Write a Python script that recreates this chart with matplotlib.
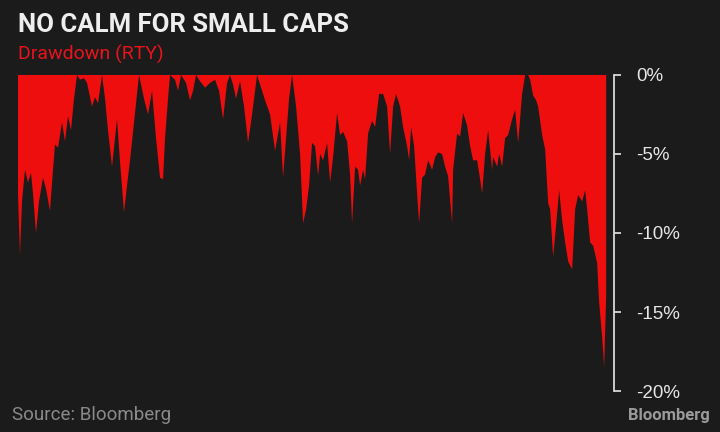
import matplotlib
matplotlib.use('Agg')
from matplotlib import pyplot as plt

# drawdown of the Russell 2000 (RTY)
day = [0, 2, 4, 7, 10, 13, 15, 18, 21, 25, 28, 32, 35, 37, 40, 44, 47, 50, 53, 56,
       59, 62, 66, 69, 74, 77, 80, 84, 87, 90, 94, 99, 102, 106, 109, 112, 116, 121, 126, 130,
       134, 138, 142, 145, 147, 150, 152, 157, 160, 163, 168, 172, 175, 178, 182, 187, 192, 197, 201, 205,
       209, 212, 215, 218, 222, 226, 230, 234, 239, 243, 247, 252, 257, 262, 265, 268, 271, 274, 278, 282,
       285, 288, 291, 294, 297, 300, 302, 305, 309, 312, 315, 319, 322, 325, 329, 332, 334, 337, 340, 342,
       345, 347, 350, 354, 357, 361, 365, 369, 372, 375, 378, 382, 385, 389, 391, 393, 396, 399, 401, 404,
       407, 410, 414, 417, 420, 424, 427, 430, 434, 435, 439, 442, 445, 449, 452, 455, 459, 462, 464, 467,
       470, 474, 475, 479, 481, 484, 487, 490, 494, 497, 500, 504, 507, 510, 512, 515, 518, 520, 524, 527,
       530, 532, 535, 538, 541, 544, 547, 550, 554, 557, 560, 564, 567, 569, 572, 575, 579, 581, 584, 586,
       588]
drawdown = [-7.5, -11.4, -8.0, -6.0, -6.8, -6.2, -7.5, -10.0, -8.0, -6.5, -7.2, -8.6, -6.0, -4.4, -4.6, -3.0, -4.2, -2.6, -3.5, -1.5,
            0.0, -0.3, -0.2, -0.5, -2.0, -1.4, -1.8, 0.0, -1.5, -3.5, -5.8, -2.8, -5.5, -8.7, -7.0, -5.4, -3.0, 0.0, -1.5, -2.5,
            -1.0, -4.0, -6.5, -6.6, -4.0, -1.5, 0.0, -0.3, -1.0, 0.0, -0.5, -1.6, -1.0, 0.0, -0.4, -0.8, -0.5, -0.3, -1.0, -2.8,
            -0.5, 0.0, -0.6, -1.5, -0.4, -2.0, -4.3, -2.5, 0.0, -0.8, -1.6, -2.5, -4.8, -3.0, -6.5, -4.0, -1.5, 0.0, -2.0, -5.0,
            -9.4, -8.5, -7.0, -4.3, -4.5, -6.4, -5.0, -5.4, -4.3, -6.8, -5.2, -2.4, -3.8, -3.6, -4.2, -6.3, -9.4, -5.8, -6.0, -7.0,
            -6.0, -6.6, -3.7, -2.9, -3.3, -1.2, -1.2, -2.0, -5.0, -2.0, -1.2, -2.0, -3.3, -4.5, -5.4, -3.3, -4.5, -7.5, -9.4, -6.5,
            -6.3, -5.4, -6.0, -5.2, -4.9, -5.0, -5.8, -6.4, -9.4, -6.0, -3.7, -3.9, -2.4, -3.2, -4.5, -5.4, -5.4, -6.6, -7.5, -5.0,
            -3.5, -6.0, -5.2, -5.8, -5.0, -5.8, -4.0, -3.8, -2.8, -2.2, -4.3, -1.2, 0.0, 0.0, -0.3, -1.3, -1.6, -2.0, -3.8, -4.7,
            -8.1, -8.5, -11.5, -9.5, -7.3, -9.2, -10.6, -11.8, -12.3, -8.5, -7.6, -8.0, -7.3, -8.5, -10.6, -10.8, -11.9, -14.4, -16.6, -18.5,
            -14.0]
ticks = [0, -5, -10, -15, -20]
tick_labels = ['0%', '-5%', '-10%', '-15%', '-20%']

bg = '#1b1b1b'
red = '#ee0e0e'

fig = plt.figure(figsize=(7.2, 4.32), dpi=100, facecolor=bg)
ax = fig.add_axes([0.025, 0.0949, 0.828, 0.7315], facecolor=bg)

ax.fill_between(day, drawdown, 0, facecolor=red, linewidth=0)
ax.set_xlim(0, 596)
ax.set_ylim(-20, 0)

for side in ['top', 'left', 'bottom']:
    ax.spines[side].set_visible(False)
ax.spines['right'].set_color('#d8d8d8')
ax.spines['right'].set_linewidth(1.3)
ax.set_xticks([])
ax.yaxis.tick_right()
ax.set_yticks(ticks)
ax.set_yticklabels(tick_labels, family='Liberation Sans')
ax.tick_params(axis='y', direction='out', length=5, width=1.3, color='#d8d8d8',
               labelcolor='#e6e6e6', labelsize=13.5, pad=11)

fig.text(0.025, 0.925, 'NO CALM FOR SMALL CAPS', color='#eeeeee', fontsize=18.5,
         fontweight='bold', family='Roboto', va='baseline')
fig.text(0.025, 0.862, 'Drawdown (RTY)', color='#e8141c', fontsize=14,
         family='Roboto', va='baseline')
fig.text(0.016, 0.028, 'Source: Bloomberg', color='#8a8a8a', fontsize=13.5,
         family='Roboto', va='baseline')
fig.text(0.986, 0.028, 'Bloomberg', color='#9a9a9a', fontsize=12, fontweight='bold',
         family='Roboto', ha='right', va='baseline')

fig.savefig('out.png', dpi=100, facecolor=bg)
